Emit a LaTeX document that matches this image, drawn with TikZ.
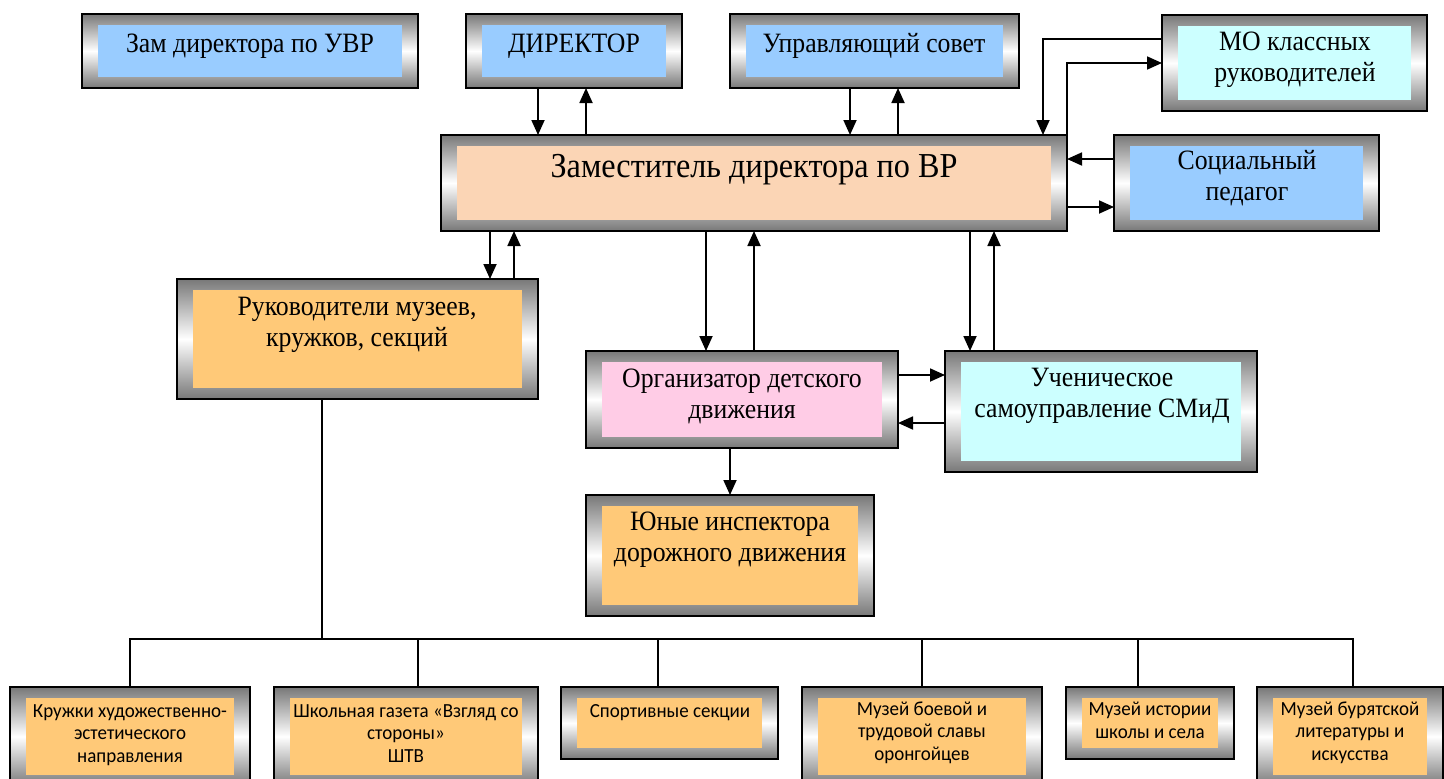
\documentclass[tikz,border=0pt]{standalone}
\usepackage{fontspec}
\setmainfont{Liberation Serif}[FakeStretch=0.92]
\newfontfamily\calfont{Carlito}[FakeStretch=0.95]
\usetikzlibrary{arrows.meta}
\definecolor{frgray}{RGB}{120,120,120}
\definecolor{cblue}{RGB}{153,204,255}
\definecolor{cpeach}{RGB}{251,213,181}
\definecolor{corange}{RGB}{255,201,120}
\definecolor{cpink}{RGB}{255,204,230}
\definecolor{ccyan}{RGB}{204,255,255}
\tikzset{
  bev/.style={draw=black, line width=1.5pt, top color=frgray, bottom color=frgray,
    middle color=white, inner sep=0pt, outer sep=0pt,
    path picture={\fill[#1] ([shift={(16pt,-11pt)}]path picture bounding box.north west)
      rectangle ([shift={(-16pt,11pt)}]path picture bounding box.south east);}},
  lbl/.style={align=center, inner sep=0pt, anchor=base, font=\fontsize{28}{31}\selectfont},
  biglbl/.style={align=center, inner sep=0pt, anchor=base, font=\fontsize{35}{38}\selectfont},
  small/.style={align=center, inner sep=0pt, anchor=base, font=\calfont\fontsize{20}{22.5}\selectfont},
  arr/.style={line width=1.8pt, -{Triangle[length=15pt,width=13pt]}},
  tree/.style={line width=1.3pt},
}
\newcommand\bbox[6]{\node[bev=#6, minimum width=#4-#2, minimum height=#5-#3] (#1) at ({(#2+#4)/2},{(#3+#5)/2}) {};}
\begin{document}
\begin{tikzpicture}[x=1pt,y=-1pt]
\useasboundingbox (0,0) rectangle (1444,779);
\fill[white] (0,0) rectangle (1444,779);
\clip (0,0) rectangle (1444,779);
% boxes
\bbox{zuvr}{82}{14}{418}{88}{cblue}
\bbox{dir}{466}{14}{682}{88}{cblue}
\bbox{us}{730}{14}{1019}{88}{cblue}
\bbox{mo}{1162}{15}{1427}{111}{ccyan}
\bbox{zvr}{441}{135}{1067}{231}{cpeach}
\bbox{sp}{1114}{135}{1379}{231}{cblue}
\bbox{ruk}{177}{279}{538}{399}{corange}
\bbox{org}{586}{351}{898}{448}{cpink}
\bbox{uch}{945}{351}{1257}{472}{ccyan}
\bbox{yui}{586}{495}{874}{616}{corange}
\bbox{b1}{10}{687}{250}{786}{corange}
\bbox{b2}{274}{687}{538}{786}{corange}
\bbox{b3}{561}{687}{778}{759}{corange}
\bbox{b4}{802}{687}{1042}{786}{corange}
\bbox{b5}{1066}{687}{1234}{759}{corange}
\bbox{b6}{1257}{687}{1443}{786}{corange}
% texts (anchor = baseline of the last line)
\node[lbl] (tzuvr) at (250,52) {Зам директора по УВР};
\node[lbl] (tdir) at (574,52) {ДИРЕКТОР};
\node[lbl] (tus) at (874,52) {Управляющий совет};
\node[lbl] (tmo) at (1295,81) {МО классных\\руководителей};
\node[biglbl] (tzvr) at (754,177) {Заместитель директора по ВР};
\node[lbl] (tsp) at (1247,200) {Социальный\\педагог};
\node[lbl] (truk) at (357,346) {Руководители музеев,\\кружков, секций};
\node[lbl] (torg) at (742,418) {Организатор детского\\движения};
\node[lbl] (tuch) at (1102,417) {Ученическое\\самоуправление СМиД};
\node[lbl] (tyui) at (730,561) {Юные инспектора\\дорожного движения};
\node[small] (tb1) at (130,762) {Кружки художественно-\\эстетического\\направления};
\node[small] (tb2) at (406,762) {Школьная газета «Взгляд со\\стороны»\\ШТВ};
\node[small] (tb3) at (670,717) {Спортивные секции};
\node[small] (tb4) at (922,760) {Музей боевой и\\трудовой славы\\оронгойцев};
\node[small] (tb5) at (1150,738) {Музей истории\\школы и села};
\node[small] (tb6) at (1350,760) {Музей бурятской\\литературы и\\искусства};
% arrows
\draw[arr] (dir.south -| 538,0) -- (zvr.north -| 538,0);
\draw[arr] (zvr.north -| 586,0) -- (dir.south -| 586,0);
\draw[arr] (us.south -| 850,0) -- (zvr.north -| 850,0);
\draw[arr] (zvr.north -| 898,0) -- (us.south -| 898,0);
\draw[arr] (mo.west |- 0,39) -| (zvr.north -| 1043,0);
\draw[arr] (zvr.north east) |- (mo.west |- 0,63);
\draw[arr] (sp.west |- 0,159) -- (zvr.east |- 0,159);
\draw[arr] (zvr.east |- 0,207) -- (sp.west |- 0,207);
\draw[arr] (zvr.south -| 490,0) -- (ruk.north -| 490,0);
\draw[arr] (ruk.north -| 514,0) -- (zvr.south -| 514,0);
\draw[arr] (zvr.south -| 706,0) -- (org.north -| 706,0);
\draw[arr] (org.north -| 754,0) -- (zvr.south -| 754,0);
\draw[arr] (zvr.south -| 970,0) -- (uch.north -| 970,0);
\draw[arr] (uch.north -| 994,0) -- (zvr.south -| 994,0);
\draw[arr] (org.east |- 0,375) -- (uch.west |- 0,375);
\draw[arr] (uch.west |- 0,423) -- (org.east |- 0,423);
\draw[arr] (org.south -| 730,0) -- (yui.north -| 730,0);
% tree
\coordinate (hub) at (322,639);
\draw[tree] (ruk.south -| hub) -- (hub);
\draw[tree] (b1.north) -- (b1.north |- hub) -- (1353,639) -- (b6.north -| 1353,0);
\draw[tree] (b2.north -| 418,0) -- (418,639);
\draw[tree] (b3.north -| 658,0) -- (658,639);
\draw[tree] (b4.north) -- (b4.north |- hub);
\draw[tree] (b5.north -| 1138,0) -- (1138,639);
\end{tikzpicture}
\end{document}
